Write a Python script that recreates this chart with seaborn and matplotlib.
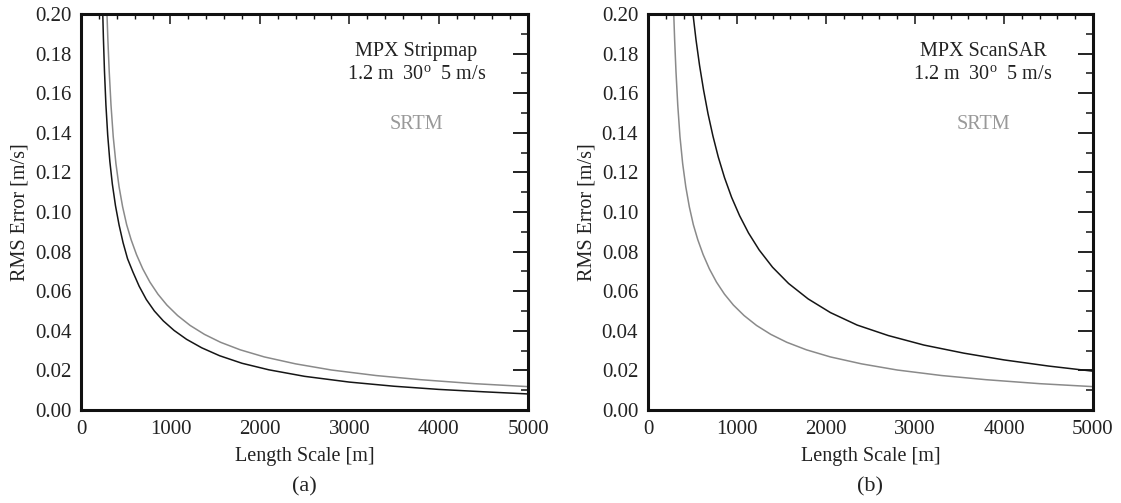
import numpy as np
import pandas as pd
import matplotlib
matplotlib.use("Agg")
import matplotlib.pyplot as plt
import seaborn as sns
from matplotlib.ticker import MultipleLocator, FormatStrFormatter

# SRTM reference curve (same in both panels)
srtm_len = [290, 300, 315, 335, 360, 390, 425, 465, 510, 560, 620, 690, 770, 860,
            960, 1080, 1220, 1380, 1560, 1780, 2050, 2400, 2800, 3300, 3800, 4400, 5000]
srtm_rms = [0.200, 0.187, 0.171, 0.154, 0.138, 0.1245, 0.1128, 0.1026, 0.0936,
            0.0860, 0.0785, 0.0713, 0.0646, 0.0585, 0.0530, 0.0477, 0.0427, 0.0382,
            0.0342, 0.0304, 0.0268, 0.0233, 0.0202, 0.0174, 0.0153, 0.0133, 0.0118]

# MPX Stripmap
strip_len = [243, 250, 262, 278, 298, 322, 350, 385, 425, 470, 520, 580, 650, 730,
             820, 920, 1040, 1180, 1350, 1550, 1800, 2100, 2500, 3000, 3500, 4000,
             4500, 5000]
strip_rms = [0.200, 0.1879, 0.1711, 0.1542, 0.1389, 0.1256, 0.1141, 0.1032, 0.0935,
             0.0845, 0.0764, 0.0697, 0.0625, 0.0558, 0.0500, 0.0450, 0.0402, 0.0357,
             0.0314, 0.0274, 0.0236, 0.0203, 0.0170, 0.0141, 0.0120, 0.0104, 0.0092,
             0.0081]

# MPX ScanSAR
scan_len = [506, 540, 580, 625, 675, 730, 790, 860, 940, 1030, 1130, 1250, 1400,
            1580, 1800, 2050, 2350, 2700, 3100, 3550, 4000, 4500, 5000]
scan_rms = [0.200, 0.187, 0.174, 0.1616, 0.1496, 0.1384, 0.1278, 0.1174, 0.1074,
            0.0981, 0.0894, 0.0808, 0.0721, 0.0639, 0.0561, 0.0492, 0.0429, 0.0376,
            0.0328, 0.0287, 0.0253, 0.0222, 0.0196]

panels = [
    ("MPX Stripmap", strip_len, strip_rms, "(a)"),
    ("MPX ScanSAR", scan_len, scan_rms, "(b)"),
]

sns.set_theme(style="white")
plt.rcParams["font.family"] = ["Liberation Serif", "DejaVu Serif"]
plt.rcParams["mathtext.fontset"] = "custom"
plt.rcParams["mathtext.rm"] = "Liberation Serif"

fig = plt.figure(figsize=(11.21, 5.03), dpi=100)
ax_pos = [[0.0723, 0.1849, 0.3988, 0.7873], [0.578, 0.1849, 0.397, 0.7873]]
text_x = [3750, 3765]

for i, (name, xs, ys, tag) in enumerate(panels):
    ax = fig.add_axes(ax_pos[i])
    df_srtm = pd.DataFrame({"L": srtm_len, "rms": srtm_rms})
    df_mpx = pd.DataFrame({"L": xs, "rms": ys})
    sns.lineplot(data=df_srtm, x="L", y="rms", ax=ax, color="#8a8a8a", lw=1.1)
    sns.lineplot(data=df_mpx, x="L", y="rms", ax=ax, color="#151515", lw=1.1)

    ax.set_xlim(0, 5000)
    ax.set_ylim(0, 0.2)
    ax.xaxis.set_major_locator(MultipleLocator(1000))
    ax.xaxis.set_minor_locator(MultipleLocator(200))
    ax.yaxis.set_major_locator(MultipleLocator(0.02))
    ax.yaxis.set_minor_locator(MultipleLocator(0.01))
    ax.yaxis.set_major_formatter(FormatStrFormatter("%.2f"))

    ax.tick_params(axis="both", which="both", direction="in", top=True, right=True,
                   colors="#111", labelsize=15, labelcolor="#222")
    ax.tick_params(axis="y", which="major", length=11, width=1.3, pad=7)
    ax.tick_params(axis="y", which="minor", length=5, width=1.1)
    ax.tick_params(axis="x", which="major", length=7, width=1.1, pad=7)
    ax.tick_params(axis="x", which="minor", length=3.5, width=1.0)
    for s in ax.spines.values():
        s.set_visible(True)
        s.set_linewidth(2.2)
        s.set_color("#111")

    ax.set_xlabel("Length Scale [m]", fontsize=14.5, color="#222", labelpad=6)
    ax.set_ylabel("RMS Error [m/s]", fontsize=14.5, color="#222", labelpad=4)

    ax.text(text_x[i], 0.181, name, ha="center", va="center", fontsize=14.5, color="#222")
    ax.text(text_x[i], 0.169, "1.2 m  30$^{\\rm o}$  5 m/s", ha="center", va="center",
            fontsize=14.5, color="#222")
    ax.text(text_x[i], 0.144, "SRTM", ha="center", va="center", fontsize=14.5, color="#999")
    ax.text(0.5, -0.194, tag, transform=ax.transAxes, ha="center", va="center",
            fontsize=16, color="#222")

plt.savefig("out.png", dpi=100)
